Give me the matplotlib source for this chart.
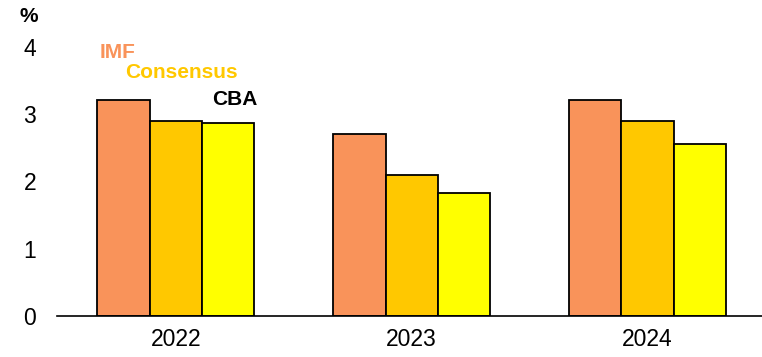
import matplotlib.pyplot as plt
import numpy as np

plt.rcParams['font.family'] = ['Liberation Sans', 'DejaVu Sans']

years = ['2022', '2023', '2024']
series = ['IMF', 'Consensus', 'CBA']
imf = [3.2, 2.7, 3.2]
consensus = [2.9, 2.1, 2.9]
cba = [2.87, 1.83, 2.56]
colors = ['#F9935A', '#FFC800', '#FFFF00']
text_colors = ['#F9935A', '#FFC800', 'black']

fig = plt.figure(figsize=(7.62, 3.57), dpi=100)
ax = fig.add_axes([57 / 762, 41 / 357, 1 - 57 / 762, (316 - 46.5) / 357])

x = np.arange(len(years))
w = 0.222
for i, vals in enumerate([imf, consensus, cba]):
    ax.bar(x + (i - 1) * w, vals, w, color=colors[i], edgecolor='black', linewidth=1.3, zorder=2)

ax.set_xlim(-0.504, 2.485)
ax.set_ylim(0, 4)
ax.set_yticks([0, 1, 2, 3, 4])
ax.set_xticks(x)
ax.set_xticklabels(years)
ax.tick_params(axis='both', length=0, labelsize=16.5)
ax.tick_params(axis='y', pad=15)
ax.tick_params(axis='x', pad=9)
for s in ['top', 'right', 'left']:
    ax.spines[s].set_visible(False)
ax.spines['bottom'].set_linewidth(1.2)
ax.spines['bottom'].set_zorder(3)

# series labels above the 2022 group
ax.text(-0.322, 3.83, series[0], color=text_colors[0], fontsize=15, fontweight='bold', va='baseline', ha='left')
ax.text(-0.217, 3.527, series[1], color=text_colors[1], fontsize=15, fontweight='bold', va='baseline', ha='left')
ax.text(0.153, 3.13, series[2], color=text_colors[2], fontsize=15, fontweight='bold', va='baseline', ha='left')

fig.text(28.5 / 762, 1 - 17 / 357, '%', fontsize=15, fontweight='bold', ha='center', va='center')

fig.savefig('out.png', dpi=100)
